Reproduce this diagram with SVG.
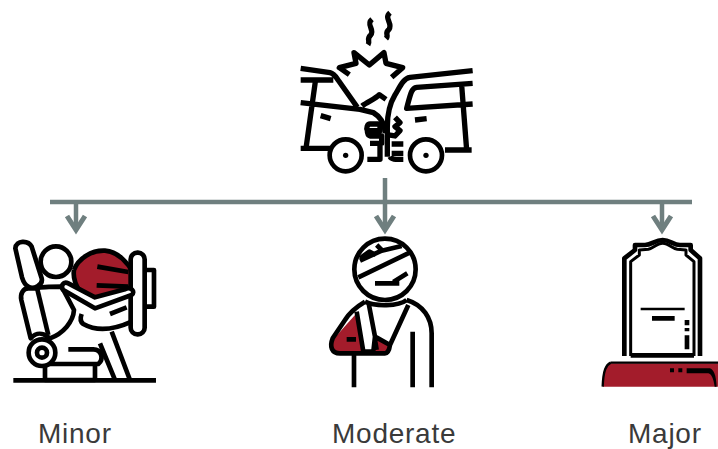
<svg xmlns="http://www.w3.org/2000/svg" width="718" height="449" viewBox="0 0 718 449">
<style>
text{font-family:"Liberation Sans",Arial,sans-serif;font-size:28px;letter-spacing:.75px;fill:#3a3a3a}
.k{fill:none;stroke:#000;stroke-width:14;stroke-linecap:butt;stroke-linejoin:round}
.h{stroke-width:16}
.t{stroke-width:7}
.w{fill:#fff}
.r{fill:#a31c2b}
.c{fill:none;stroke:#6f7f7f;stroke-width:4.5}
.a{fill:none;stroke:#6f7f7f;stroke-width:5;stroke-linejoin:miter}
</style>
<rect width="718" height="449" fill="#fff"/>
<g id="connectors">
<path class="c" d="M50 202H692M385 178V228M76 202V228M662 202V228"/>
<path class="a" d="M67 216L76 230L85 216M376 216L385 230L394 216M653 216L662 230L671 216"/>
</g>
<g id="crash" transform="translate(280,0) scale(.3333)">
<path class="k h" d="M276 58C256 75 286 88 272 105C258 118 272 122 264 134M330 38C310 55 340 70 327 88C312 100 328 105 318 116"/>
<path class="k h" d="M208 224L178 203L228 190L222 158L268 195L312 158L318 190L368 203L335 232"/>
<path class="k h" d="M62 205L150 218C165 222 170 235 178 245L232 322M62 240L160 240M106 245L78 445H150M62 445H150M62 308L240 328L280 338C300 350 312 365 316 400M246 318C262 305 285 298 298 284L318 298M122 347L152 356"/>
<path class="k h" d="M578 212L390 232C370 235 360 260 345 285C330 310 322 340 322 380V470M578 250L410 262C395 264 392 280 380 325L578 312M545 255L560 450M560 450H495M545 450H575M405 360L440 356"/>
<path class="k h" d="M270 372H300V392H262C258 385 262 372 270 372ZM262 392C262 400 264 405 270 408H305V430H270M300 430V478H262M345 352L360 368L345 380L360 392L345 408L325 405M335 432H370M335 460H370M330 470C335 480 350 478 370 478"/>
<circle class="k w" cx="197" cy="466" r="48"/><circle cx="197" cy="466" r="8"/>
<circle class="k w" cx="438" cy="466" r="48"/><circle cx="438" cy="466" r="8"/>
</g>
<g id="minor" transform="translate(0,190) scale(.3333)">
<path class="r" d="M222 240C235 205 275 180 315 182C355 185 385 220 400 250V290L285 350C255 330 215 285 222 240Z"/>
<path class="k" d="M222 240C235 205 275 180 315 182C355 185 385 220 400 250M222 240C215 285 255 330 285 350"/>
<path class="k" d="M292 230L385 246M290 286L385 290"/>
<rect class="k w" x="392" y="188" width="42" height="245" rx="20"/>
<path class="k" d="M436 240H462V350H436"/>
<path class="k w" d="M46 175C48 150 85 150 95 170L125 265C130 285 100 300 85 290C75 285 70 275 66 262Z"/>
<path class="k w" d="M85 295C70 295 60 310 64 330L92 445C110 425 130 430 142 440L150 445C190 430 220 395 222 360L185 290C170 290 125 290 110 295Z"/>
<path class="k" d="M112 298L145 435"/>
<circle class="k w" cx="168" cy="215" r="46"/>
<path class="k w" d="M190 300L285 355L395 315C408 305 392 288 375 298L285 322L205 280C190 272 180 290 190 300Z"/>
<path class="k" d="M245 372C240 385 240 395 250 402C290 425 340 420 395 395M330 372L380 352"/>
<path class="k w" d="M205 478H280C305 478 312 508 295 522H135V570H285V522"/>
<path class="k" d="M300 460L345 570M335 425L390 570"/>
<circle class="k w" cx="126" cy="488" r="40"/><circle class="k" cx="126" cy="488" r="15"/>
<path class="k" d="M40 571H468"/>
</g>
<g id="moderate" transform="translate(310,190) scale(.3333)">
<path class="r" d="M135 375L68 450C58 475 68 490 85 490H225L240 465L205 445L190 480H160L140 390Z"/>
<circle class="k" cx="225" cy="238" r="92"/>
<path class="k" d="M145 262L305 185M150 212L215 182L275 168M150 205L178 185L198 195M200 165L215 180M195 280H268M250 276L292 250"/>
<path class="k" d="M165 335C140 350 120 365 105 390L68 445C58 470 65 490 90 490H225C232 490 238 480 240 465L295 345M175 335L195 440L240 465M140 365L160 485H190L195 440M110 448H138M195 450L200 480M165 335C195 350 265 350 290 330"/>
<path class="k" d="M290 330C340 345 365 385 365 430V592M308 425V592M132 490V592"/>
</g>
<g id="major" transform="translate(590,190) scale(.3333)">
<path class="k" d="M103 498V205L135 180V165L165 165C185 165 195 150 218 150C240 150 250 165 270 165L302 165V180L330 205V498"/>
<path class="k" style="stroke-width:9" d="M122 498V215L148 195V180L175 178C190 175 200 160 218 160C236 160 246 175 262 178L288 180V195L312 215V498"/>
<path class="k" d="M122 496H312"/>
<path class="k t" d="M152 357H284"/>
<path class="k" d="M186 385H254M291 390V406M291 414V424M291 436V478"/>
<path class="r" d="M62 520H385V590H38V565C40 540 48 525 62 520Z"/>
<path class="k t" d="M62 518H385M62 518C48 525 40 540 38 590"/>
<path d="M240 535H252V547H240ZM265 535H277V547H265ZM290 535H360C372 540 378 555 380 590H374C370 565 365 553 355 550H290Z"/>
</g>
<g id="labels">
<text x="38" y="443">Minor</text>
<text x="332" y="443">Moderate</text>
<text x="628" y="443">Major</text>
</g>
</svg>
